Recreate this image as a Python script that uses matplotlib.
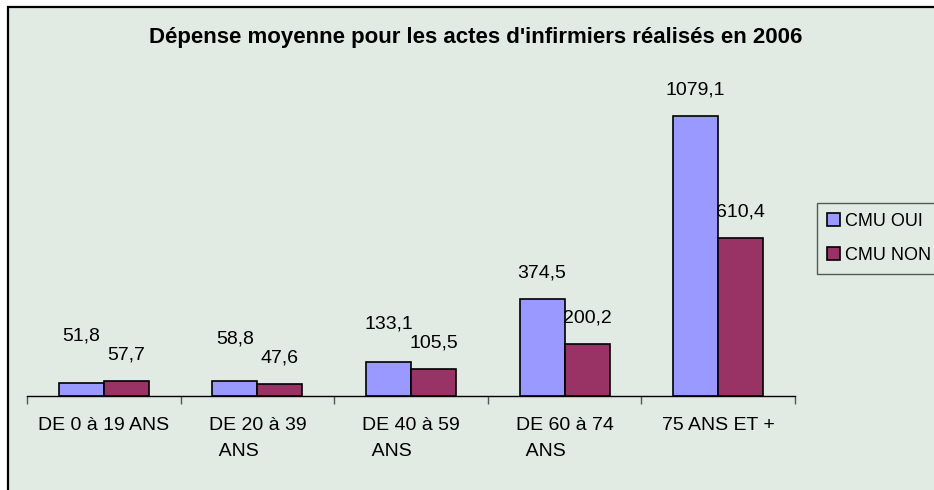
import matplotlib.pyplot as plt
from matplotlib.patches import Rectangle

categories = ["DE 0 à 19 ANS", "DE 20 à 39\n  ANS", "DE 40 à 59\n  ANS", "DE 60 à 74\n  ANS", "75 ANS ET +"]
cmu_oui = [51.8, 58.8, 133.1, 374.5, 1079.1]
cmu_non = [57.7, 47.6, 105.5, 200.2, 610.4]
series_names = ["CMU OUI", "CMU NON"]

bg = "#E1EAE3"
blue = "#9999FF"
maroon = "#993366"

plt.rcParams["font.family"] = ["Liberation Sans", "DejaVu Sans"]

fig = plt.figure(figsize=(9.34, 4.9), dpi=100)
fig.patch.set_facecolor("white")
# chart area frame (only top and left edges fall inside the image)
fig.patches.append(Rectangle((8 / 934, -0.1), 1.2, 1.1 - 7 / 490, transform=fig.transFigure,
                             facecolor=bg, edgecolor="black", linewidth=1.6, zorder=-5))

ax = fig.add_axes([27 / 934, 94 / 490, 768 / 934, 311 / 490])
ax.set_facecolor("none")

x = list(range(len(categories)))
w = 0.293
b1 = ax.bar([i - w / 2 for i in x], cmu_oui, w, color=blue, edgecolor="black", linewidth=1.2, label=series_names[0])
b2 = ax.bar([i + w / 2 for i in x], cmu_non, w, color=maroon, edgecolor="black", linewidth=1.2, label=series_names[1])

ax.set_xlim(-0.5, len(categories) - 0.5)
ax.set_ylim(0, 1200)

fmt = lambda v: f"{v:.1f}".replace(".", ",")
lab_off = 100
stack_gap = 73
for i in x:
    y_non = cmu_non[i] + lab_off
    y_oui = cmu_oui[i] + lab_off
    if abs(y_oui - y_non) < stack_gap:
        y_oui = max(y_oui, y_non + stack_gap)
    ax.text(i + w / 2, y_non, fmt(cmu_non[i]), ha="center", va="center", fontsize=14)
    ax.text(i - w / 2, y_oui, fmt(cmu_oui[i]), ha="center", va="center", fontsize=14)

for s in ["top", "right", "left"]:
    ax.spines[s].set_visible(False)
ax.spines["bottom"].set_color("black")
ax.spines["bottom"].set_linewidth(1.0)
ax.set_yticks([])

ax.set_xticks([i - 0.5 for i in range(len(categories) + 1)])
ax.set_xticklabels([])
ax.tick_params(axis="x", which="major", length=6, width=1, color="#555555", direction="out")
ax.set_xticks(x, minor=True)
ax.set_xticklabels(categories, minor=True, fontsize=14, linespacing=1.7)
ax.tick_params(axis="x", which="minor", length=0, pad=15)
for lab in ax.get_xticklabels(minor=True):
    lab.set_multialignment("left")
    lab.set_verticalalignment("top")

fig.text(476 / 934, 1 - 37 / 490, "Dépense moyenne pour les actes d'infirmiers réalisés en 2006",
         ha="center", va="center", fontsize=16, fontweight="bold")

leg = fig.legend(handles=[b1, b2], loc="upper left", bbox_to_anchor=(817 / 934, 1 - 203 / 490),
                 fontsize=13, frameon=True, fancybox=False, borderaxespad=0, borderpad=0.55,
                 handlelength=0.7, handleheight=0.7, handletextpad=0.3, labelspacing=0.95)
leg.get_frame().set_facecolor(bg)
leg.get_frame().set_edgecolor("#333333")
leg.get_frame().set_linewidth(1.0)

fig.savefig("out.png", dpi=100, facecolor=fig.get_facecolor())
